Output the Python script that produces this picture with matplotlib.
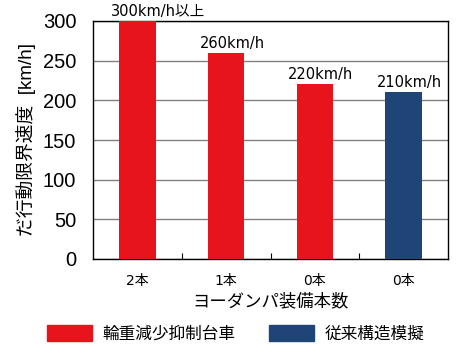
import matplotlib.pyplot as plt
from matplotlib.patches import Patch
from matplotlib.ticker import MultipleLocator, FixedLocator

plt.rcParams['font.family'] = ['Liberation Sans', 'Noto Sans CJK JP']

# data
tick_labels = ['2本', '1本', '0本', '0本']
speeds = [300, 260, 220, 210]
speed_texts = ['300km/h以上', '260km/h', '220km/h', '210km/h']
groups = ['輪重減少抑制台車', '輪重減少抑制台車', '輪重減少抑制台車', '従来構造模擬']
group_colors = {'輪重減少抑制台車': '#E8141C', '従来構造模擬': '#1F4577'}

fig = plt.figure(figsize=(4.58, 3.54), dpi=100)
ax = fig.add_axes([93 / 458, 1 - 259 / 354, 355 / 458, 238 / 354])

x = range(len(speeds))
ax.bar(x, speeds, width=0.41, color=[group_colors[g] for g in groups], zorder=3)

# value labels above each bar
for i, (v, t) in enumerate(zip(speeds, speed_texts)):
    ax.annotate(t, (i - 0.3, v), xytext=(0, 1.5), textcoords='offset points',
                ha='left', va='bottom', fontsize=10.5,
                family=['DejaVu Sans', 'Noto Sans CJK JP'])

ax.set_xlim(-0.5, len(speeds) - 0.5)
ax.set_ylim(0, 300)
ax.yaxis.set_major_locator(MultipleLocator(50))
ax.grid(axis='y', color='#808080', linewidth=1, zorder=0)
ax.tick_params(axis='y', length=0, labelsize=14.5, pad=12)

ax.set_xticks(list(x))
ax.set_xticklabels(tick_labels, fontsize=10,
                   family=['DejaVu Sans', 'Noto Sans CJK JP'])
ax.tick_params(axis='x', which='major', length=0, pad=11)
ax.xaxis.set_minor_locator(FixedLocator([0.5, 1.5, 2.5]))
ax.tick_params(axis='x', which='minor', direction='in', length=4, width=0.8)

for s in ax.spines.values():
    s.set_linewidth(1)

ax.set_xlabel('ヨーダンパ装備本数', fontsize=12.5, labelpad=3)
ax.set_ylabel('だ行動限界速度  [km/h]', fontsize=13.5, labelpad=5)

handles = [Patch(color=c, label=g) for g, c in group_colors.items()]
fig.legend(handles=handles, loc='lower left', bbox_to_anchor=(32 / 458, -3 / 354),
           ncol=2, frameon=False, fontsize=12, handlelength=2.7, handleheight=1.1,
           handletextpad=0.65, columnspacing=2.0)

fig.savefig('out.png', dpi=100)
